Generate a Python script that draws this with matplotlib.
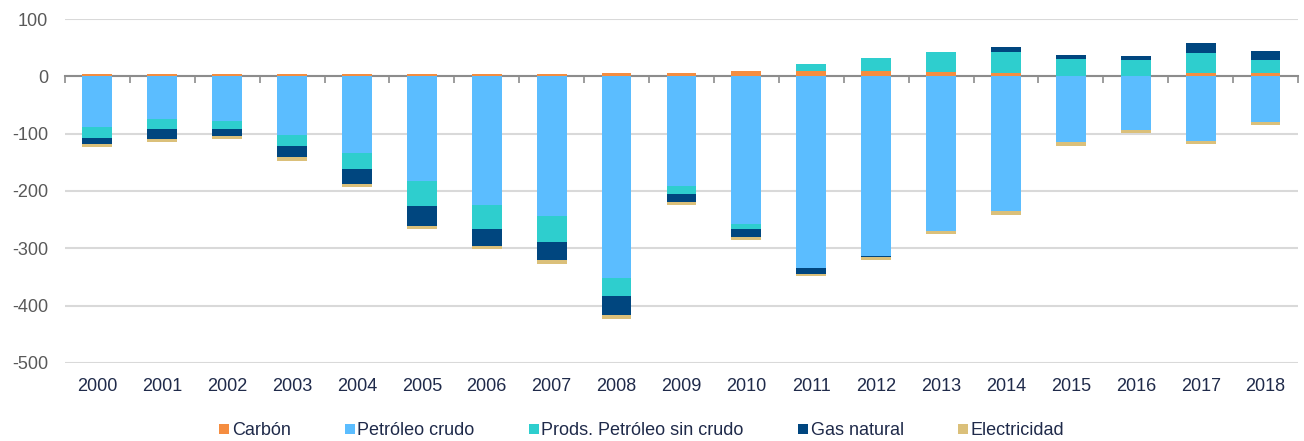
import matplotlib
matplotlib.use("Agg")
import matplotlib.pyplot as plt
import numpy as np

# Data
years = [str(y) for y in range(2000, 2019)]
carbon = [4, 4, 4, 4, 4, 4, 4, 4, 5, 5, 10, 10, 10, 8, 6, 1, 1, 6, 6]
crude = [-88, -74, -78, -102, -134, -183, -224, -243, -352, -192, -257, -334, -313, -269, -235, -115, -93, -112, -80]
prods = [-19, -18, -14, -19, -27, -44, -42, -46, -31, -14, -9, 12, 22, 34, 37, 29, 27, 35, 23]
gas = [-11, -17, -12, -20, -26, -34, -30, -32, -34, -14, -14, -10, -2, 0, 8, 7, 8, 18, 16]
elec = [-5, -5, -5, -6, -6, -6, -5, -6, -6, -5, -6, -5, -6, -6, -6, -6, -5, -6, -5]

series = [
    ("Carbón", carbon, "#F58D40"),
    ("Petróleo crudo", crude, "#5BBDFF"),
    ("Prods. Petróleo sin crudo", prods, "#2ECECE"),
    ("Gas natural", gas, "#00467F"),
    ("Electricidad", elec, "#DBC07A"),
]

plt.rcParams["font.family"] = ["Liberation Sans", "DejaVu Sans"]
plt.rcParams["axes.unicode_minus"] = False

fig = plt.figure(figsize=(13.04, 4.41), dpi=100)
ax = fig.add_axes([0.0498, 0.1769, 0.9456, 0.78])

x = np.arange(len(years))
pos = np.zeros(len(years))
neg = np.zeros(len(years))
handles = []
for name, vals, col in series:
    v = np.array(vals, dtype=float)
    bottom = np.where(v >= 0, pos, neg)
    b = ax.bar(x, v, 0.46, bottom=bottom, color=col, linewidth=0,
               label=name, zorder=3)
    handles.append(b)
    pos = pos + np.where(v >= 0, v, 0)
    neg = neg + np.where(v < 0, v, 0)

ax.set_xlim(-0.5, len(years) - 0.5)
ax.set_ylim(-500, 100)
ax.set_yticks(np.arange(-500, 101, 100))
ax.yaxis.grid(True, color="#D9D9D9", linewidth=1.5, zorder=0)
ax.tick_params(axis="y", length=0, pad=12, labelsize=13, labelcolor="#595959")

for s in ["top", "right", "left"]:
    ax.spines[s].set_visible(False)

# zero axis line with tick marks between categories
ax.spines["bottom"].set_position(("data", 0))
ax.spines["bottom"].set_color("#8C8C8C")
ax.spines["bottom"].set_linewidth(1.5)
ax.spines["bottom"].set_zorder(2)
ax.set_xticks(x)
ax.set_xticklabels([])
ax.set_xticks(np.arange(-0.5, len(years), 1.0), minor=True)
ax.tick_params(axis="x", which="major", length=0)
ax.tick_params(axis="x", which="minor", length=5, width=1.2, color="#8C8C8C")

# year labels at the bottom of the plot area
sec = ax.secondary_xaxis("bottom")
sec.set_xticks(x)
sec.set_xticklabels(years, fontsize=13, color="#1F2A4A")
sec.spines["bottom"].set_visible(False)
sec.tick_params(length=0, pad=11)

fig.legend(handles=handles, loc="center", bbox_to_anchor=(0.492, 0.023),
           ncol=5, frameon=False, handlelength=0.55, handleheight=0.55,
           handletextpad=0.15, columnspacing=3.0, borderaxespad=0,
           prop={"size": 13}, labelcolor="#1F2A4A")

fig.savefig("out.png", dpi=100)
